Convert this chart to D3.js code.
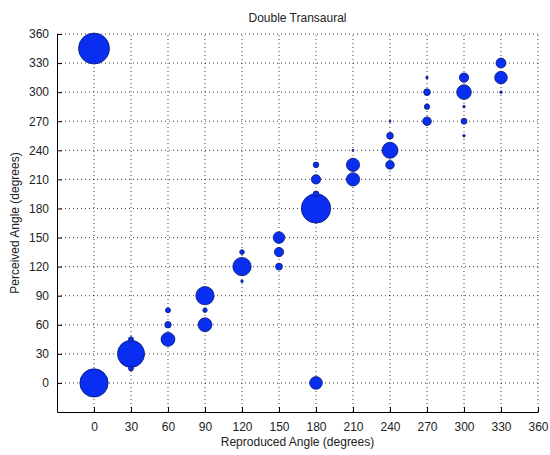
<!DOCTYPE html>
<html>
<head>
<meta charset="utf-8">
<script src="https://cdn.jsdelivr.net/npm/d3@7"></script>
<style>
  body { margin: 0; background: #fff; }
  text { font-family: "Liberation Sans", Arial, sans-serif; fill: #222; }
  .grid line { stroke: #000; stroke-dasharray: 1,3; stroke-width: 1; opacity: 0.75; }
</style>
</head>
<body>
<svg width="550" height="455"></svg>
<script>
// reproduced angle, perceived angle, number of responses (bubble area)
var reproduced = [0, 0, 30, 30, 30, 60, 60, 60, 90, 90, 90, 120, 120, 120,
  150, 150, 150, 180, 180, 180, 180, 180, 210, 210, 210,
  240, 240, 240, 240, 270, 270, 270, 270, 300, 300, 300, 300, 300, 330, 330, 330];
var perceived = [0, 345, 30, 45, 15, 45, 60, 75, 90, 75, 60, 120, 135, 105,
  150, 135, 120, 180, 195, 210, 225, 0, 210, 225, 240,
  240, 225, 255, 270, 270, 285, 300, 315, 300, 315, 285, 270, 255, 330, 315, 300];
var counts = [25, 30, 23, 0.8, 0.8, 6, 1.3, 0.8, 10.5, 0.6, 6, 10.5, 0.7, 0.2,
  4.2, 2.7, 1.5, 27, 1.1, 2.7, 1, 5, 5.5, 5.5, 0.12,
  8, 2.3, 1.4, 0.12, 2.3, 0.9, 1.4, 0.2, 6.7, 2.7, 0.2, 1.1, 0.2, 3.1, 5, 0.2];
var ticks = [0, 30, 60, 90, 120, 150, 180, 210, 240, 270, 300, 330, 360];

var width = 550, height = 455;
var margin = { left: 57, right: 12, top: 34, bottom: 43 };

var svg = d3.select('svg');

var xScale = d3.scaleLinear()
  .domain([-30, 360])
  .range([margin.left, width - margin.right]);
var yScale = d3.scaleLinear()
  .domain([-30, 360])
  .range([height - margin.bottom, margin.top]);
var rScale = d3.scaleSqrt()
  .domain([0, 30])
  .range([0, 15.5]);

// dotted grid
svg.append('g')
  .attr('class', 'grid')
  .selectAll('line.v')
  .data(ticks)
  .enter()
  .append('line')
  .attr('x1', function(d) { return xScale(d); })
  .attr('x2', function(d) { return xScale(d); })
  .attr('y1', yScale(-30))
  .attr('y2', yScale(360));

svg.append('g')
  .attr('class', 'grid')
  .selectAll('line.h')
  .data(ticks)
  .enter()
  .append('line')
  .attr('y1', function(d) { return yScale(d); })
  .attr('y2', function(d) { return yScale(d); })
  .attr('x1', xScale(-30))
  .attr('x2', xScale(360));

// axes, ticks inside like matlab
var xAxis = d3.axisBottom(xScale).tickValues(ticks).tickSizeInner(-5).tickSizeOuter(0).tickPadding(10);
var yAxis = d3.axisLeft(yScale).tickValues(ticks).tickSizeInner(-5).tickSizeOuter(0).tickPadding(8);

var gx = svg.append('g')
  .attr('transform', 'translate(0,' + (height - margin.bottom) + ')')
  .call(xAxis);
var gy = svg.append('g')
  .attr('transform', 'translate(' + margin.left + ',0)')
  .call(yAxis);

[gx, gy].forEach(function(g) {
  g.select('.domain').attr('stroke', '#000');
  g.selectAll('.tick line').attr('stroke', '#000');
  g.selectAll('.tick text')
    .style('font-size', '12px')
    .style('font-family', '"Liberation Sans", Arial, sans-serif')
    .attr('fill', '#222');
});

// bubbles, big ones first
var points = reproduced.map(function(d, i) {
  return { x: d, y: perceived[i], n: counts[i] };
}).sort(function(a, b) { return b.n - a.n; });

svg.selectAll('.bubble')
  .data(points)
  .enter()
  .append('circle')
  .attr('class', 'bubble')
  .attr('cx', function(d) { return xScale(d.x); })
  .attr('cy', function(d) { return yScale(d.y); })
  .attr('r', function(d) { return Math.max(rScale(d.n), 1); })
  .attr('fill', '#0a2df2')
  .attr('stroke', '#0a1a70')
  .attr('stroke-width', 0.8);

// labels
svg.append('text')
  .attr('x', (xScale(-30) + xScale(360)) / 2)
  .attr('y', 22)
  .attr('text-anchor', 'middle')
  .style('font-size', '12px')
  .text('Double Transaural');

svg.append('text')
  .attr('x', (xScale(-30) + xScale(360)) / 2)
  .attr('y', 446)
  .attr('text-anchor', 'middle')
  .style('font-size', '12px')
  .text('Reproduced Angle (degrees)');

svg.append('text')
  .attr('transform', 'rotate(-90)')
  .attr('x', -(yScale(-30) + yScale(360)) / 2)
  .attr('y', 19)
  .attr('text-anchor', 'middle')
  .style('font-size', '12px')
  .text('Perceived Angle (degrees)');
</script>
</body>
</html>
